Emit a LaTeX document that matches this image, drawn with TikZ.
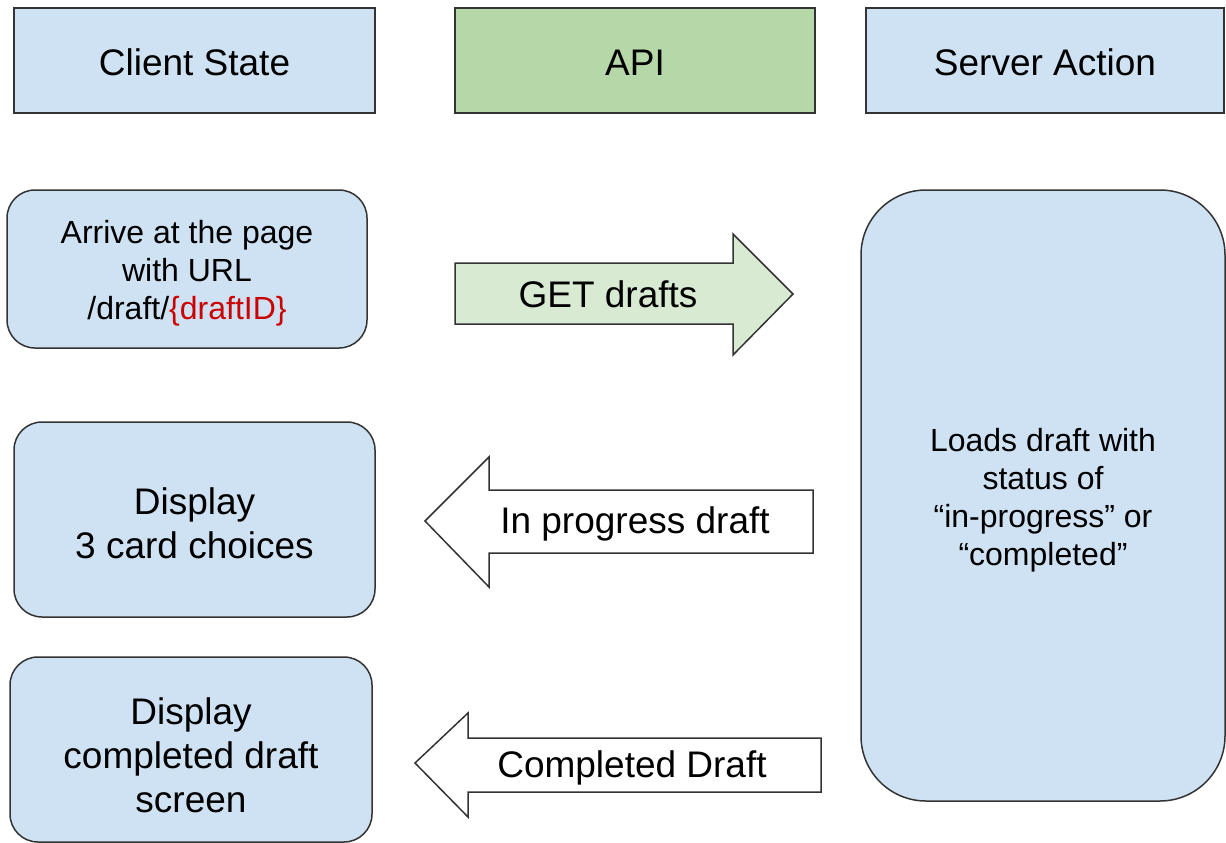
\documentclass[tikz,border=0pt]{standalone}
\usepackage{fontspec}
\setmainfont{Liberation Sans}
\definecolor{lblue}{HTML}{CFE2F3}
\definecolor{hgreen}{HTML}{B6D7A8}
\definecolor{agreen}{HTML}{D9EAD3}
\definecolor{edge}{HTML}{333333}
\definecolor{idred}{HTML}{CC0000}
\tikzset{
  box/.style={draw=edge, line width=1.5pt, fill=lblue, inner sep=0pt},
  roundbox/.style={box, rounded corners=28pt},
  arrowshape/.style={draw=edge, line width=1.5pt, line join=miter},
  lbl/.style={inner sep=0pt, align=center, font=\fontsize{37}{44}\selectfont},
  slbl/.style={lbl, font=\fontsize{32}{38}\selectfont},
}
\begin{document}
\begin{tikzpicture}[x=1pt,y=-1pt]
\useasboundingbox (0,0) rectangle (1226,843);
% headers
\node[box, minimum width=361pt, minimum height=105pt] (hclient) at (194.5,60.5) {};
\node[lbl, yshift=-2pt] (hclienttxt) at (hclient) {Client State};
\node[box, fill=hgreen, minimum width=360pt, minimum height=105pt] (hapi) at (635,60.5) {};
\node[lbl, yshift=-2pt] (hapitxt) at (hapi) {API};
\node[box, minimum width=358pt, minimum height=105pt] (hserver) at (1045,60.5) {};
\node[lbl, yshift=-2pt] (hservertxt) at (hserver) {Server Action};
% client states
\node[roundbox, minimum width=360pt, minimum height=158pt] (arrive) at (187,269) {};
\node[slbl, yshift=-4pt] (arrivetxt) at (arrive) {Arrive at the page\\with URL\\/draft/{\color{idred}\{draftID\}}};
\node[roundbox, minimum width=361pt, minimum height=195pt] (choices) at (194.5,519.5) {};
\node[lbl, yshift=-3.5pt] (choicestxt) at (choices) {Display\\3 card choices};
\node[roundbox, minimum width=362pt, minimum height=185pt] (completed) at (191,749.5) {};
\node[lbl, yshift=-5.5pt] (completedtxt) at (completed) {Display\\completed draft\\screen};
% server
\node[box, rounded corners=65pt, minimum width=364pt, minimum height=611pt] (server) at (1043,495.5) {};
\node[slbl, yshift=-5pt] (servertxt) at (server) {Loads draft with\\status of\\“in-progress” or\\“completed”};
% arrows
\draw[arrowshape, fill=agreen] (455,263) -- (733,263) -- (733,234) -- (793,294) -- (733,355) -- (733,324) -- (455,324) -- cycle;
\node[lbl] (get) at (608,294) {GET drafts};
\draw[arrowshape, fill=white] (813,490) -- (489,490) -- (489,457) -- (425,521) -- (489,587) -- (489,553) -- (813,553) -- cycle;
\node[lbl] (inprog) at (635,524) {In progress draft};
\draw[arrowshape, fill=white] (821,738) -- (468,738) -- (468,713) -- (415,763) -- (468,817) -- (468,792) -- (821,792) -- cycle;
\node[lbl] (compl) at (632,768) {Completed Draft};
\end{tikzpicture}
\end{document}
